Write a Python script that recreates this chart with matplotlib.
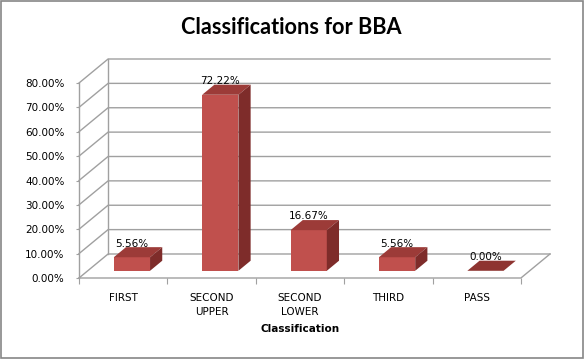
import matplotlib
matplotlib.use("Agg")
import matplotlib.pyplot as plt
from matplotlib.patches import Polygon, Rectangle

# data
categories = ["FIRST", "SECOND\nUPPER", "SECOND\nLOWER", "THIRD", "PASS"]
percentages = [5.56, 72.22, 16.67, 5.56, 0.00]
y_ticks = [0, 10, 20, 30, 40, 50, 60, 70, 80]

# pseudo-3d geometry (data units)
DX, DY = 0.329, 9.85          # depth of the wall/floor
FX, FY = 0.30 * DX, 0.30 * DY  # where the bar front sits
BDX, BDY = 0.42 * DX, 0.42 * DY  # bar depth
W = 0.41

FRONT = "#C0504D"
TOP = "#9C3B38"
SIDE = "#7E2C2A"
GRID = "#A0A0A0"

fig = plt.figure(figsize=(5.84, 3.59), dpi=100)
ax = fig.add_axes([79 / 584, 1 - 278 / 359, 471 / 584, 219 / 359])
n = len(categories)
ax.set_xlim(-0.5, n - 0.5 + DX)
ax.set_ylim(0, y_ticks[-1] + DY)
for s in ax.spines.values():
    s.set_visible(False)

# walls and gridlines
for g in y_ticks:
    ax.plot([-0.5, -0.5 + DX, n - 0.5 + DX], [g, g + DY, g + DY],
            color=GRID, lw=1.0, zorder=1, clip_on=False)
ax.plot([-0.5 + DX, -0.5 + DX], [DY, y_ticks[-1] + DY], color=GRID, lw=1.0, zorder=1, clip_on=False)
ax.plot([-0.5, -0.5], [0, y_ticks[-1]], color=GRID, lw=1.0, zorder=1, clip_on=False)
ax.plot([-0.5, n - 0.5, n - 0.5 + DX], [0, 0, DY], color=GRID, lw=1.0, zorder=1, clip_on=False)

# bars
xs = [i + FX for i in range(n)]
ax.bar(xs, percentages, width=W, bottom=FY, color=FRONT, zorder=3)
for x, v in zip(xs, percentages):
    x0, x1 = x - W / 2, x + W / 2
    top = v + FY
    ax.add_patch(Polygon([(x0, top), (x1, top), (x1 + BDX, top + BDY), (x0 + BDX, top + BDY)],
                         closed=True, fc=TOP if v > 0 else "#8E3431", ec="none", zorder=3))
    if v > 0:
        ax.add_patch(Polygon([(x1, FY), (x1 + BDX, FY + BDY), (x1 + BDX, top + BDY), (x1, top)],
                             closed=True, fc=SIDE, ec="none", zorder=3))
    ax.annotate(f"{v:.2f}%", (x, top + BDY), xytext=(0, 2.6), textcoords="offset points",
                ha="center", va="center", fontsize=7.5, color="black", zorder=4)

# axes ticks
ax.set_yticks(y_ticks)
ax.set_yticklabels([f"{t:.2f}%" for t in y_ticks])
ax.tick_params(axis="y", length=2.5, width=0.8, color=GRID, pad=8, labelsize=7.5)
ax.set_xticks(range(n))
ax.set_xticklabels(categories, fontsize=7.5, linespacing=1.5)
ax.set_xticks([i - 0.5 for i in range(n + 1)], minor=True)
ax.tick_params(axis="x", which="major", length=0, pad=11)
ax.tick_params(axis="x", which="minor", length=4, width=0.8, color=GRID)
for lab in ax.get_xticklabels():
    lab.set_verticalalignment("top")

# axis title sits under the middle category, below the tick labels
ax.annotate("Classification", ((n - 1) / 2, 0), xytext=(0, -37), textcoords="offset points",
            ha="center", va="center", fontsize=7.5, fontweight="bold", annotation_clip=False)

fig.text(291 / 584, 1 - 27 / 359, "Classifications for BBA", ha="center", va="center",
         fontsize=15.6, fontweight="bold", family="Lato")

fig.patches.append(Rectangle((0.5 / 584, 1.5 / 359), 582 / 584, 357 / 359, transform=fig.transFigure,
                             fill=False, ec="#868686", lw=1.2))

fig.savefig("out.png", dpi=100)
